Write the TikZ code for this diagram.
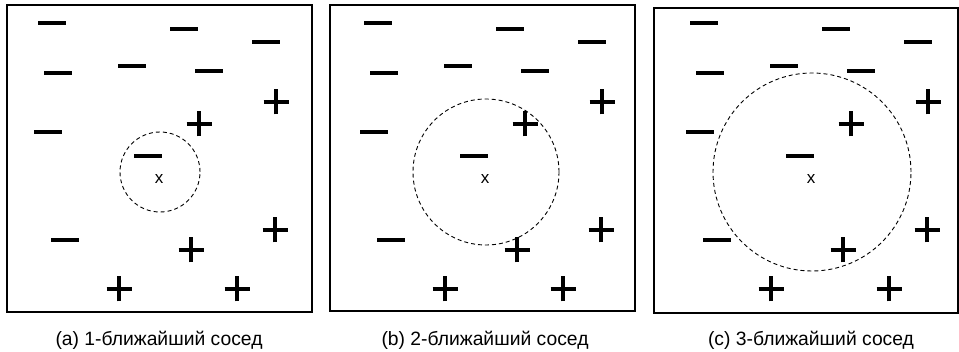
\documentclass[tikz,border=0pt]{standalone}
\usepackage{fontspec}
\setmainfont{Liberation Sans}
\usetikzlibrary{positioning}

\begin{document}
\begin{tikzpicture}[x=1pt, y=1pt, font=\fontsize{19.3}{21}\selectfont,
    minusmark/.style={line width=3.2pt},
    plusmark/.style={line width=4.4pt},
    hood/.style={dash pattern=on 4pt off 3pt, line width=0.9pt},
    frame/.style={draw, line width=1.1pt},
    query/.style={font=\fontsize{17}{17}\selectfont, inner sep=0pt}]
  \useasboundingbox (0,0) rectangle (959,351);
  \foreach \cx/\fl/\fr/\ft/\fb/\r/\tag/\k in {159/7/312/346/39/40/a/1, 485/330/635/346/40/73/b/2, 811/654/958/343/38/99/c/3} {
    \draw[frame] (\fl,\fb) rectangle (\fr,\ft);
    \foreach \dx/\dy in {-107/156, 25/150, 107/137, -101/106, -27/113, 50/108, -111/47, -11/23, -94/-61}
      \draw[minusmark] (\cx+\dx-14,172+\dy) -- ++(28,0);
    \foreach \dx/\dy in {117/77, 40/55, 116/-51, 32/-71, -40/-110, 78/-110} {
      \draw[plusmark] (\cx+\dx-12.5,172+\dy) -- ++(25,0);
      \draw[plusmark] (\cx+\dx,172+\dy-12.5) -- ++(0,25);
    }
    \node[query] (x\tag) at (\cx,172) {x};
    \draw[hood] (\cx+1,179) circle[radius=\r];
    \node (cap\tag) at (\cx,11) {(\tag) \k-ближайший сосед};
  }
\end{tikzpicture}
\end{document}
